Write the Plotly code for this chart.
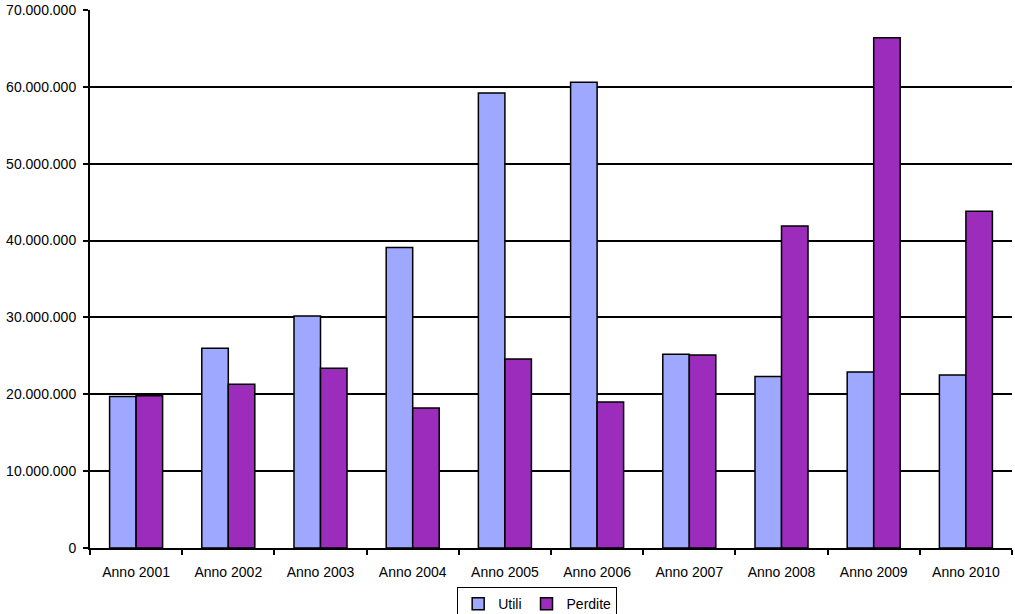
import plotly.graph_objects as go

categories = ["Anno 2001", "Anno 2002", "Anno 2003", "Anno 2004", "Anno 2005",
              "Anno 2006", "Anno 2007", "Anno 2008", "Anno 2009", "Anno 2010"]
utili = [19.7e6, 26.0e6, 30.2e6, 39.1e6, 59.2e6, 60.6e6, 25.2e6, 22.3e6, 22.9e6, 22.5e6]
perdite = [19.8e6, 21.3e6, 23.4e6, 18.2e6, 24.6e6, 19.0e6, 25.1e6, 41.9e6, 66.4e6, 43.8e6]
y_ticks = [0, 10e6, 20e6, 30e6, 40e6, 50e6, 60e6, 70e6]

fig = go.Figure()
fig.add_trace(go.Bar(name="Utili", x=categories, y=utili,
                     marker=dict(color="#9EA8FF", line=dict(color="black", width=1.5))))
fig.add_trace(go.Bar(name="Perdite", x=categories, y=perdite,
                     marker=dict(color="#9C2CBB", line=dict(color="black", width=1.5))))

fig.update_layout(
    width=1015, height=614,
    margin=dict(l=90, r=3, t=10, b=66, autoexpand=False),
    paper_bgcolor="white", plot_bgcolor="white",
    separators=",.",
    barmode="group", bargap=0.425, bargroupgap=0,
    font=dict(family="Liberation Sans, Arial, sans-serif", size=14, color="black"),
    legend=dict(orientation="h", x=0.485, xanchor="center", y=-0.073, yanchor="top",
                bordercolor="black", borderwidth=1, bgcolor="white",
                font=dict(size=14), itemwidth=30, tracegroupgap=0),
    xaxis=dict(type="category", showline=True, linecolor="black", linewidth=2,
               ticks="outside", tickson="boundaries", ticklen=5, tickwidth=2, tickcolor="black",
               showgrid=False, mirror=False, automargin=False, ticklabelstandoff=10,
               tickfont=dict(size=14)),
    yaxis=dict(range=[0, 70e6], tickvals=y_ticks, tickformat=",d",
               showline=True, linecolor="black", linewidth=2,
               ticks="outside", ticklen=5, tickwidth=2, tickcolor="black",
               showgrid=True, gridcolor="black", gridwidth=1.5, zeroline=False,
               automargin=False, ticklabelstandoff=4, tickfont=dict(size=14)),
)

fig.write_html("out.html", config={"displayModeBar": False},
               post_script="document.body.style.margin='0';")
